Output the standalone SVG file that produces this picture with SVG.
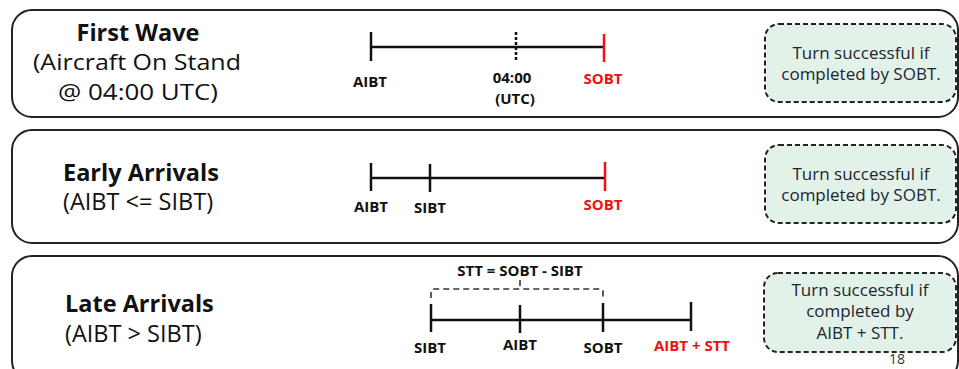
<svg xmlns="http://www.w3.org/2000/svg" width="959" height="369" viewBox="0 0 959 369">
<style>
.panel{fill:#fff;stroke:#222;stroke-width:2}
.note{fill:#e3f2e8;stroke:#222;stroke-width:2;stroke-dasharray:5 3}
.title{font-family:"Open Sans",sans-serif;font-size:23.5px;font-weight:bold;fill:#111}
.sub{font-family:"Open Sans",sans-serif;font-size:23.5px;fill:#111}
.sub2{font-family:"Open Sans",sans-serif;font-size:22px;fill:#111}
.lbl{font-family:"Open Sans",sans-serif;font-size:15px;font-weight:bold;fill:#111;text-anchor:middle}
.red{fill:#f01010}
.nt{font-family:"Open Sans",sans-serif;font-size:17px;fill:#1c2433;text-anchor:middle}
.ln{stroke:#111;stroke-width:2.5;fill:none}
.rt{stroke:#f01010;stroke-width:2.5;fill:none}
.dash{stroke:#111;stroke-width:2.5;stroke-dasharray:3 2;fill:none}
.br{stroke:#333;stroke-width:1.6;stroke-dasharray:6 4;fill:none}
</style>
<rect width="959" height="369" fill="#fff"/>
<g id="panel-first-wave">
<rect class="panel" x="12" y="10" width="946" height="107" rx="20"/>
<text class="title" x="138" y="41" text-anchor="middle">First Wave</text>
<text class="sub2" x="33" y="70" textLength="208" lengthAdjust="spacingAndGlyphs">(Aircraft On Stand</text>
<text class="sub2" x="58" y="100" textLength="160" lengthAdjust="spacingAndGlyphs">@ 04:00 UTC)</text>
<rect class="note" x="765" y="24" width="191" height="78" rx="14"/>
<text class="nt" x="861" y="59">Turn successful if</text>
<text class="nt" x="861" y="80">completed by SOBT.</text>
</g>
<g id="panel-early-arrivals">
<rect class="panel" x="12" y="130" width="946" height="113" rx="20"/>
<text class="title" x="63" y="181">Early Arrivals</text>
<text class="sub" x="63" y="210">(AIBT &lt;= SIBT)</text>
<rect class="note" x="765" y="145" width="191" height="78" rx="14"/>
<text class="nt" x="861" y="180">Turn successful if</text>
<text class="nt" x="861" y="201">completed by SOBT.</text>
</g>
<g id="panel-late-arrivals">
<rect class="panel" x="12" y="256" width="946" height="125" rx="20"/>
<text class="title" x="65" y="312">Late Arrivals</text>
<text class="sub" x="65" y="342">(AIBT &gt; SIBT)</text>
<rect class="note" x="764" y="273" width="192" height="79" rx="14"/>
<text class="nt" x="860" y="296">Turn successful if</text>
<text class="nt" x="860" y="317">completed by</text>
<text class="nt" x="860" y="339">AIBT + STT.</text>
</g>
<g id="connectors">
<line class="ln" x1="371" y1="47" x2="604" y2="47"/>
<line class="ln" x1="371" y1="32" x2="371" y2="61"/>
<line class="dash" x1="516" y1="32" x2="516" y2="61"/>
<line class="rt" x1="604" y1="34" x2="604" y2="62"/>
<line class="ln" x1="371" y1="178" x2="605" y2="178"/>
<line class="ln" x1="371" y1="163" x2="371" y2="191"/>
<line class="ln" x1="430" y1="164" x2="430" y2="192"/>
<line class="rt" x1="605" y1="162" x2="605" y2="191"/>
<line class="ln" x1="431" y1="320" x2="691" y2="320"/>
<line class="ln" x1="431" y1="304" x2="431" y2="332"/>
<line class="ln" x1="520" y1="305" x2="520" y2="333"/>
<line class="ln" x1="603" y1="303" x2="603" y2="332"/>
<line class="ln" x1="691" y1="302" x2="691" y2="331"/>
<path class="br" d="M431,298 V292 Q431,289 434,289 H600 Q603,289 603,292 V298"/>
<line class="br" x1="520" y1="280" x2="520" y2="288"/>
</g>
<g id="labels">
<text class="lbl" x="370" y="87">AIBT</text>
<text class="lbl" x="512" y="83">04:00</text>
<text class="lbl" x="515" y="104">(UTC)</text>
<text class="lbl red" x="603" y="84">SOBT</text>
<text class="lbl" x="371" y="212">AIBT</text>
<text class="lbl" x="430" y="213">SIBT</text>
<text class="lbl red" x="603" y="210">SOBT</text>
<text class="lbl" x="520" y="276">STT = SOBT - SIBT</text>
<text class="lbl" x="430" y="353">SIBT</text>
<text class="lbl" x="520" y="350">AIBT</text>
<text class="lbl" x="603" y="353">SOBT</text>
<text class="lbl red" x="692" y="351">AIBT + STT</text>
<text x="897" y="364" font-family="Open Sans, sans-serif" font-size="14" fill="#333" text-anchor="middle">18</text>
</g>
</svg>
